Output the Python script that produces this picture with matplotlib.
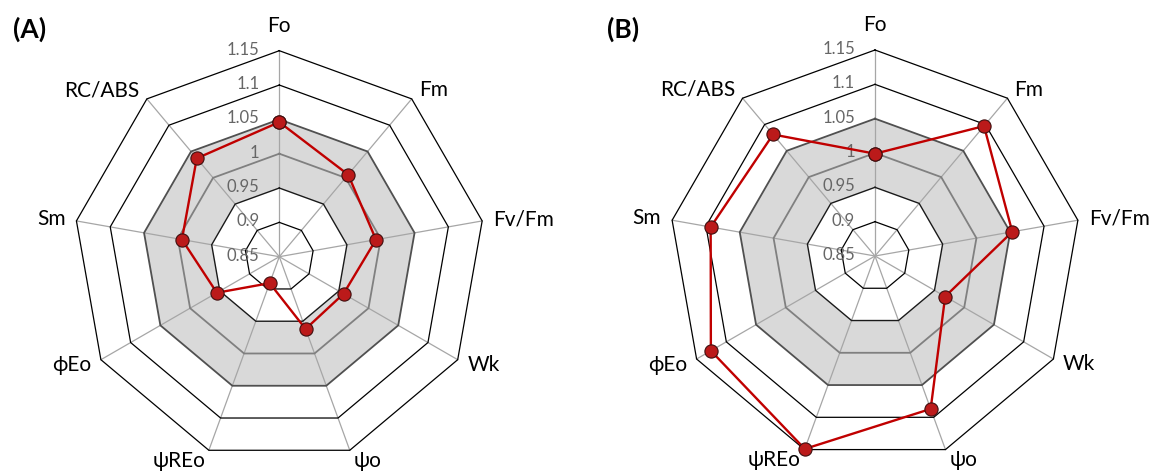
import numpy as np
import matplotlib
matplotlib.use("Agg")
import matplotlib.pyplot as plt

plt.rcParams['font.family'] = ['Lato', 'DejaVu Sans']

categories = ['Fo', 'Fm', 'Fv/Fm', 'Wk', 'ψo', 'ψREo', 'ϕEo', 'Sm', 'RC/ABS']
values_A = [1.046, 1.006, 0.993, 0.958, 0.962, 0.891, 0.955, 0.994, 1.037]
values_B = [0.999, 1.097, 1.053, 0.968, 1.087, 1.149, 1.126, 1.093, 1.081]
ring_levels = [0.90, 0.95, 1.00, 1.05, 1.10, 1.15]
tick_values = [0.85, 0.90, 0.95, 1.00, 1.05, 1.10, 1.15]
tick_labels = ['0.85', '0.9', '0.95', '1', '1.05', '1.1', '1.15']
band = (0.95, 1.05)
r_min, r_max = 0.85, 1.15
panel_labels = ['(A)', '(B)']

W, H = 1156, 472
fig = plt.figure(figsize=(W / 100, H / 100), dpi=100)

n = len(categories)
theta = np.arange(n) * 2 * np.pi / n


def xy(vals):
    r = np.asarray(vals) - r_min
    return r * np.sin(theta), r * np.cos(theta)


def closed(a):
    return np.append(a, a[0])


ring_colors = {0.90: '#000000', 0.95: '#1a1a1a', 1.00: '#808080',
               1.05: '#505050', 1.10: '#000000', 1.15: '#000000'}
ring_widths = {0.90: 0.9, 0.95: 1.0, 1.00: 1.3, 1.05: 1.3, 1.10: 0.9, 1.15: 0.9}

L = 0.34
scale = 206 / (r_max - r_min)  # px per unit
half = L * scale
centers = [(279.3, 256.7), (875.0, 256.0)]

for k, (vals, plabel) in enumerate(zip([values_A, values_B], panel_labels)):
    cx, cy = centers[k]
    left = (cx - half) / W
    bottom = ((H - cy) - half) / H
    ax = fig.add_axes([left, bottom, 2 * half / W, 2 * half / H])
    ax.set_xlim(-L, L)
    ax.set_ylim(-L, L)
    ax.axis('off')

    # shaded band
    ox, oy = xy([band[1]] * n)
    ix, iy = xy([band[0]] * n)
    ax.fill(closed(ox), closed(oy), color='#D9D9D9', zorder=1, lw=0)
    ax.fill(closed(ix), closed(iy), color='white', zorder=1.1, lw=0)

    # spokes
    sx, sy = xy([r_max] * n)
    for i in range(n):
        ax.plot([0, sx[i]], [0, sy[i]], color='#A6A6A6', lw=0.9, zorder=2)

    # rings
    for lv in ring_levels:
        rx, ry = xy([lv] * n)
        ax.plot(closed(rx), closed(ry), color=ring_colors[lv],
                lw=ring_widths[lv], zorder=3, solid_joinstyle='miter')

    # tick labels
    for tv, tl in zip(tick_values, tick_labels):
        ax.annotate(tl, xy=(0, tv - r_min), xytext=(-20, 1),
                    textcoords='offset pixels', ha='right', va='center',
                    fontsize=12, color='#666666', zorder=5)

    # category labels
    for i, cat in enumerate(categories):
        s, c = np.sin(theta[i]), np.cos(theta[i])
        if abs(s) < 0.1:
            ha = 'center'
            off = (0, 25)
        else:
            ha = 'left' if s > 0 else 'right'
            off = (11 * s, 11 * c)
        ax.annotate(cat, xy=(sx[i], sy[i]), xytext=off,
                    textcoords='offset pixels', ha=ha, va='center',
                    fontsize=15, color='black', annotation_clip=False)

    # data
    dx, dy = xy(vals)
    ax.plot(closed(dx), closed(dy), color='#C00000', lw=1.7, zorder=6,
            marker='o', markersize=9.5, markerfacecolor='#BB1A1A',
            markeredgecolor='#3F0F0F', markeredgewidth=0.8, clip_on=False)

    # panel label
    px = 12.7 if k == 0 else 606.7
    fig.text(px / W, 1 - 29 / H, plabel, fontsize=19, fontweight='bold',
             ha='left', va='center')

fig.savefig('out.png', dpi=100)
